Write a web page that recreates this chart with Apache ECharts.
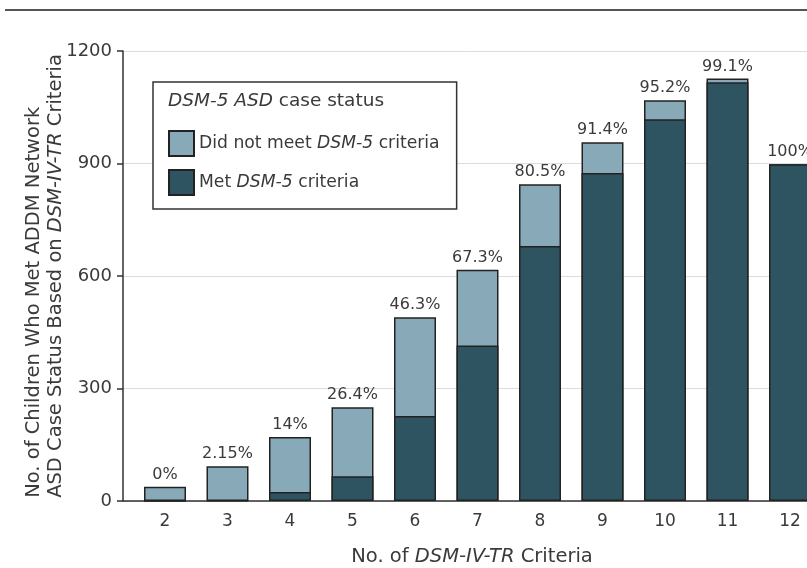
<!DOCTYPE html>
<html><head><meta charset="utf-8">
<script src="https://cdn.jsdelivr.net/npm/echarts@6/dist/echarts.min.js"></script>
<style>html,body{margin:0;padding:0;background:#fff}#c{width:807px;height:568px}</style>
</head><body><div id="c"></div>
<script>
const categories = [2, 3, 4, 5, 6, 7, 8, 9, 10, 11, 12];
const metValues = [0, 2, 24, 66, 227, 415, 680, 875, 1018, 1117, 898];
const notMetValues = [38, 91, 147, 184, 263, 202, 165, 82, 51, 10, 0];
const pctLabels = ['0%', '2.15%', '14%', '26.4%', '46.3%', '67.3%', '80.5%', '91.4%', '95.2%', '99.1%', '100%'];
const yTicks = [0, 300, 600, 900, 1200];

const FONT = '"DejaVu Sans", sans-serif';
const TXT = '#3a3a3a';
const chart = echarts.init(document.getElementById('c'), null, {renderer: 'canvas'});
const unit = 62.5, left = 123, xMin = 1.328, gridW = 698;
const xMax = xMin + gridW / unit;
const totals = metValues.map((m, i) => m + notMetValues[i]);

chart.setOption({
  animation: false,
  textStyle: {fontFamily: FONT},
  grid: {left: left, width: gridW, top: 51, bottom: 67, containLabel: false, outerBoundsMode: 'none'},
  xAxis: {
    type: 'value', min: xMin, max: xMax,
    axisLine: {show: true, onZero: false, lineStyle: {color: '#333', width: 1.5}},
    axisTick: {show: false},
    splitLine: {show: false},
    axisLabel: {customValues: categories, color: TXT, fontSize: 17, fontFamily: FONT, margin: 12},
    name: '{a|No. of }{i|DSM-IV-TR}{a| Criteria}',
    nameLocation: 'middle', nameGap: 46,
    nameTextStyle: {rich: {
      a: {fontSize: 19.5, color: TXT, fontFamily: FONT},
      i: {fontSize: 19.5, color: TXT, fontFamily: FONT, fontStyle: 'italic'}
    }}
  },
  yAxis: {
    type: 'value', min: 0, max: 1200, interval: 300,
    axisLine: {show: true, lineStyle: {color: '#333', width: 1.5}},
    axisTick: {show: true, length: 6, lineStyle: {color: '#333', width: 1.5}},
    splitLine: {show: true, lineStyle: {color: '#dcdcdc', width: 1}},
    axisLabel: {color: TXT, fontSize: 18, fontFamily: FONT, margin: 11,
      customValues: yTicks, formatter: v => String(v)},
    name: '{a|No. of Children Who Met ADDM Network}\n{a|ASD Case Status Based on }{i|DSM-IV-TR}{a| Criteria}',
    nameLocation: 'middle', nameRotate: 90, nameGap: 56, nameMoveOverlap: false,
    nameTextStyle: {rich: {
      a: {fontSize: 19.5, color: TXT, fontFamily: FONT, align: 'left', lineHeight: 22},
      i: {fontSize: 19.5, color: TXT, fontFamily: FONT, fontStyle: 'italic', align: 'left', lineHeight: 22}
    }}
  },
  legend: {
    left: 153, top: 82, orient: 'vertical',
    padding: [48, 17, 13, 15], itemGap: 12, itemWidth: 25, itemHeight: 25,
    borderColor: '#333', borderWidth: 1.5, backgroundColor: '#fff',
    icon: 'rect',
    data: ['notmet', 'met'],
    formatter: function (n) {
      return n === 'met' ? '{a|Met }{i|DSM-5}{a| criteria}' : '{a|Did not meet }{i|DSM-5}{a| criteria}';
    },
    textStyle: {padding: [0, 0, 0, 0], rich: {
      a: {fontSize: 17.2, color: TXT, fontFamily: FONT},
      i: {fontSize: 17.2, color: TXT, fontFamily: FONT, fontStyle: 'italic'}
    }}
  },
  graphic: [
    {type: 'line', shape: {x1: 5, y1: 10, x2: 807, y2: 10}, style: {stroke: '#555', lineWidth: 2}},
    {type: 'text', left: 168, top: 92, z: 100, style: {
      text: '{i|DSM-5 ASD}{a| case status}',
      rich: {
        a: {fontSize: 18.5, fill: TXT, fontFamily: FONT},
        i: {fontSize: 18.5, fill: TXT, fontFamily: FONT, fontStyle: 'italic'}
      }
    }}
  ],
  series: [
    {
      name: 'notmet', type: 'bar', barWidth: 42,
      data: categories.map((c, i) => [c, totals[i]]),
      itemStyle: {color: '#88a9b8', borderColor: '#222', borderWidth: 1.5},
      label: {show: true, position: 'top', distance: 4, color: TXT, fontSize: 16, fontFamily: FONT,
        formatter: p => pctLabels[p.dataIndex]}
    },
    {
      name: 'met', type: 'bar', barWidth: 42, barGap: '-100%',
      data: categories.map((c, i) => [c, metValues[i]]),
      itemStyle: {color: '#2e5461', borderColor: '#222', borderWidth: 1.5}
    }
  ]
});
</script></body></html>
